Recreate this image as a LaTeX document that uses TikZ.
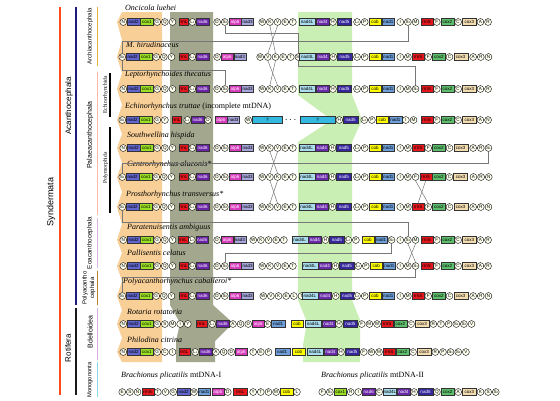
\documentclass[tikz,border=0pt]{standalone}
\usepackage{fontspec}
\setmainfont{Liberation Serif}
\setsansfont{Liberation Sans}
\usetikzlibrary{calc}

\definecolor{corange}{HTML}{F9CF98}
\definecolor{cgrayb}{HTML}{A3A78D}
\definecolor{cgreenb}{HTML}{C9EFB4}
\definecolor{ccirc}{HTML}{FFFFF0}
\definecolor{cq}{HTML}{33B9DF}
\definecolor{clink}{HTML}{777777}
\definecolor{csyn}{HTML}{FF4A1A}
\definecolor{cacan}{HTML}{1C1C80}
\definecolor{crot}{HTML}{1A1A1A}
\definecolor{carchi}{HTML}{E5B13A}
\definecolor{cpalae}{HTML}{F7BBA8}
\definecolor{ceoa}{HTML}{DDB5E5}
\definecolor{cpoly}{HTML}{B8802F}
\definecolor{cbdel}{HTML}{D9AEE3}
\definecolor{cmono}{HTML}{86D9EA}

\newcommand\defgene[4]{%
  \definecolor{cg#1}{HTML}{#2}%
  \expandafter\def\csname gw-#1\endcsname{#3}%
  \expandafter\def\csname gt-#1\endcsname{#4}}
\defgene{nad2}{6366CC}{12.5}{black}
\defgene{cox1}{9CE024}{12.5}{black}
\defgene{rrnL}{E5171C}{9.5}{black}
\defgene{rrnS}{E5171C}{12}{black}
\defgene{nad6}{6B24A8}{12.5}{white}
\defgene{atp6}{D63CBC}{12}{white}
\defgene{nad3}{A6A6DC}{12}{black}
\defgene{nad4L}{A9DCEC}{16}{black}
\defgene{nad4}{6A2BAA}{13}{white}
\defgene{nad5}{35279C}{14.5}{white}
\defgene{cob}{FFFF00}{12.5}{black}
\defgene{nad1}{6F9FDA}{12.5}{black}
\defgene{cox2}{5DBE6C}{13}{black}
\defgene{cox3}{F2DCB0}{14}{black}

\newcommand\tsub[1]{\kern-0.1pt\raisebox{-0.5pt}{\fontsize{2.8}{2.8}\selectfont#1}}

\newdimen\curx
\newdimen\tmpx
\newcount\elcnt
\def\nextw{}
\newcommand\genrow[3]{%
  \global\elcnt=0
  \foreach \ty/\vl in {#3}{%
    \if a\ty
      \global\curx=\vl pt\relax
    \else\if w\ty
      \xdef\nextw{\vl}%
    \else
      \global\advance\elcnt by 1\relax
      \if c\ty
        \node[tcirc,anchor=west] (#1-\the\elcnt) at (\the\curx,-#2pt) {\vl};%
      \else\if b\ty
        \ifx\nextw\empty\edef\bw{\csname gw-\vl\endcsname}\else\let\bw\nextw\fi
        \node[gbox,fill=cg\vl,text=\csname gt-\vl\endcsname,minimum width=\bw pt,anchor=west] (#1-\the\elcnt) at (\the\curx,-#2pt) {\vl};%
        \gdef\nextw{}%
      \else\if q\ty
        \node[gbox,fill=cq,minimum width=\vl pt,anchor=west] (#1-\the\elcnt) at (\the\curx,-#2pt) {?};%
      \else
        \node[inner sep=0pt,minimum width=\vl pt,minimum height=6pt,anchor=west] (#1-\the\elcnt) at (\the\curx,-#2pt) {$\cdots$};%
      \fi\fi\fi
      \pgfextractx{\tmpx}{\pgfpointanchor{#1-\the\elcnt}{east}}%
      \global\curx=\tmpx
      \global\advance\curx by 0.35pt\relax
    \fi\fi
  }%
}
\newcommand\lnk[3]{\draw[link] (#1.south) -- (#1.south |- 0,#2) -- (#3.north |- 0,#2) -- (#3.north);}
\newcommand\xln[2]{\draw[link] (#1.south) -- (#2.north);}

\tikzset{
  tcirc/.style={circle,draw=black,line width=0.4pt,fill=ccirc,inner sep=0pt,minimum size=6.9pt,font=\sffamily\fontsize{4.6}{4.6}\selectfont},
  gbox/.style={rectangle,draw=black!80,line width=0.3pt,inner sep=0pt,minimum height=7.2pt,font=\sffamily\fontsize{4.5}{4.5}\selectfont},
  link/.style={draw=clink,line width=0.5pt},
  sp/.style={anchor=west,inner sep=0pt,font=\fontsize{8}{9}\selectfont\itshape},
  tl/.style={rotate=90,inner sep=0pt,font=\sffamily\fontsize{#1}{#1}\selectfont},
  tl/.default=6.5,
  tl4/.style={rotate=90,inner sep=0pt,font=\rmfamily\fontsize{5.5}{5.5}\selectfont},
}

\begin{document}
\begin{tikzpicture}[x=1pt,y=-1pt]
\useasboundingbox[fill=white] (0,0) rectangle (560,400);

% background bands
\fill[corange] (122,12) -- (117,22) -- (122,40) -- (117,57) -- (122,73) -- (117,89) -- (122,105) -- (117,120) -- (122,134) -- (117,148) -- (122,163) -- (117,177) -- (122,192) -- (117,207) -- (122,224) -- (117,240) -- (122,253) -- (117,266) -- (122,281) -- (117,296) -- (122,310) -- (117,324) -- (122,338) -- (117,352) -- (122,362) -- (162,362) -- (162,12) -- cycle;
\fill[cgrayb] (170,12) -- (213,12) -- (213,305) -- (233,323) -- (215,341) -- (215,362) -- (176,362) -- (176,341) -- (180,323) -- (170,305) -- cycle;
\fill[cgreenb] (298,12) -- (352,12) -- (352,95) -- (362,120) -- (352,142) -- (352,300) -- (360,320) -- (360,362) -- (303,362) -- (303,345) -- (307,322) -- (298,300) -- (298,142) -- (332,120) -- (298,95) -- cycle;

% tree
\draw[line width=1.8pt,csyn] (60,7) -- (60,395);
\node[tl=9] (tsyn) at (51,202) {Syndermata};
\draw[line width=1.8pt,cacan] (76,7) -- (76,305);
\node[tl=8] (tacan) at (69,106) {Acanthocephala};
\draw[line width=1.8pt,crot] (76,308) -- (76,395);
\node[tl=8] (trot) at (68,348) {Rotifera};
\draw[line width=1.8pt,carchi] (97.5,7) -- (97.5,66);
\node[tl=6] (tarchi) at (90,36) {Archiacanthocephala};
\draw[line width=1.8pt,cpalae] (97.5,72) -- (97.5,215);
\node[tl=7] (tpalae) at (90,135) {Palaeacanthocephala};
\draw[line width=1.8pt,ceoa] (97.5,218) -- (97.5,268);
\node[tl=6.3] (teoa) at (90,243) {Eoacanthocephala};
\draw[line width=1.8pt,cpoly] (97.5,271) -- (97.5,305);
\node[tl=6] (tpolya) at (85,288) {Polyacantho};
\node[tl=6] (tpolyb) at (92.5,288) {cephala};
\draw[line width=1.8pt,cbdel] (97.5,308) -- (97.5,360);
\node[tl=7] (tbdel) at (90,332) {Bdelloidea};
\draw[line width=1.8pt,cmono] (97.5,362) -- (97.5,397);
\node[tl=5.8] (tmono) at (90,380) {Monogononta};
\draw[line width=1.4pt,black] (110,73) -- (110,117);
\node[tl4] (techi) at (105.5,95) {Echinorhynchida};
\draw[line width=1.4pt,black] (110,127) -- (110,213);
\node[tl4] (tpolym) at (105.5,168) {Polymorphida};

% species labels
\node[sp] (l1) at (125,8) {Oncicola luehei};
\node[sp] (l2) at (126,45) {M. hirudinaceus};
\node[sp] (l3) at (125,75) {Leptorhynchoides thecatus};
\node[sp] (l4) at (125,107) {Echinorhynchus truttae \upshape(incomplete mtDNA)};
\node[sp] (l5) at (127,136) {Southwellina hispida};
\node[sp] (l6) at (127,165) {Centrorhynchus aluconis*};
\node[sp] (l7) at (126,195) {Prosthorhynchus transversus*};
\node[sp] (l8) at (127,228) {Paratenuisentis ambiguus};
\node[sp] (l9) at (127,253) {Pallisentis celatus};
\node[sp] (l10) at (123,282) {Polyacanthorhynchus caballeroi*};
\node[sp] (l11) at (127,312) {Rotaria rotatoria};
\node[sp] (l12) at (127,340) {Philodina citrina};
\node[sp] (l13) at (121,376) {Brachionus plicatilis \upshape mtDNA-I};
\node[sp] (l14) at (321,376) {Brachionus plicatilis \upshape mtDNA-II};

% gene rows
\genrow{r1}{22}{a/119.6, c/N, b/nad2, b/cox1, c/G, c/Q, c/Y, a/178.5, b/rrnL, c/L\tsub1, b/nad6, a/213.5, c/D, c/S\tsub2, b/atp6, b/nad3, a/258.6, c/W, c/K, c/V, c/E, c/T, a/299, b/nad4L, b/nad4, c/H, b/nad5, a/353.4, c/L\tsub2, c/P, b/cob, b/nad1, a/396.6, c/I, c/S\tsub1, c/M, a/420.5, b/rrnS, c/F, b/cox2, c/C, b/cox3, c/A, c/R}
\genrow{r2}{57}{a/118.6, c/S\tsub2, b/nad2, b/cox1, c/G, c/Q, c/Y, a/178.5, b/rrnL, c/L\tsub1, b/nad6, a/213.5, c/D, b/atp6, b/nad3, a/256.5, c/W, c/V, c/K, c/E, c/T, c/S\tsub1, a/299.3, b/nad4L, b/nad4, c/H, b/nad5, a/353.4, c/L\tsub2, c/P, b/cob, b/nad1, a/396.6, c/I, c/M, b/rrnS, c/F, b/cox2, c/C, b/cox3, a/469.5, c/A, c/R, c/N}
\genrow{r3}{89}{a/119.6, c/N, b/nad2, b/cox1, c/G, c/Q, c/Y, a/178.5, b/rrnL, c/L\tsub1, b/nad6, a/213.5, c/D, c/S\tsub2, b/atp6, b/nad3, a/258.6, c/W, c/K, c/V, c/E, c/T, a/299, b/nad4L, b/nad4, c/H, b/nad5, a/353.4, c/L\tsub2, c/P, b/cob, b/nad1, a/396.6, c/I, c/M, c/S\tsub1, a/420.5, b/rrnS, c/F, b/cox2, c/C, b/cox3, c/A, c/R}
\genrow{r4}{120}{a/118.6, c/S\tsub1, b/nad2, b/cox1, a/153.6, c/G, c/Y, a/171.5, b/rrnL, a/183.6, c/L\tsub1, b/nad6, c/D, a/214.5, b/atp6, b/nad3, a/244.6, c/W, q/30, d/15, a/300, q/35, c/H, b/nad5, a/360.6, c/L\tsub2, c/P, b/cob, b/nad1, c/I, c/M, a/420.5, b/rrnS, c/F, b/cox2, c/C, b/cox3, c/A, c/N}
\genrow{r5}{148}{a/119.6, c/N, b/nad2, b/cox1, c/G, c/Q, c/Y, a/178.5, b/rrnL, c/L\tsub1, b/nad6, a/213.5, c/D, c/S\tsub2, b/atp6, b/nad3, a/258.6, c/W, c/K, c/V, c/E, c/T, a/298.5, b/nad4L, b/nad4, c/H, b/nad5, a/353.4, c/L\tsub2, c/P, b/cob, b/nad1, a/396.6, c/I, c/M, b/rrnS, c/F, b/cox2, c/C, b/cox3, a/469.5, c/A, c/R, c/S\tsub1}
\genrow{r6}{177}{a/118.6, c/S\tsub1, b/nad2, b/cox1, c/G, c/Q, c/Y, a/178.5, b/rrnL, c/L\tsub1, b/nad6, a/213.5, c/D, c/S\tsub2, b/atp6, b/nad3, a/258.6, c/W, c/V, c/K, c/E, c/T, a/298.5, b/nad4L, b/nad4, c/H, b/nad5, a/353.4, c/L\tsub2, c/P, b/cob, b/nad1, a/396.6, c/I, c/M, c/F, a/419.5, b/rrnS, b/cox2, c/C, b/cox3, a/469.8, c/A, c/R, c/N}
\genrow{r7}{207}{a/118.6, c/S\tsub1, b/nad2, b/cox1, c/G, c/Q, c/Y, a/178.5, b/rrnL, c/L\tsub1, b/nad6, a/213.5, c/D, c/S\tsub2, b/atp6, b/nad3, a/258.6, c/W, c/K, c/V, c/E, c/T, a/298.5, b/nad4L, b/nad4, c/H, b/nad5, a/353.4, c/L\tsub2, c/P, b/cob, b/nad1, a/396.6, c/I, c/M, b/rrnS, c/F, b/cox2, c/C, b/cox3, a/469.5, c/A, c/R, c/N}
\genrow{r8}{240}{a/119.6, c/N, b/nad2, b/cox1, c/G, c/Q, c/Y, a/178, b/rrnL, c/L\tsub1, b/nad6, a/213.5, c/D, b/atp6, b/nad3, a/249.6, c/W, c/K, c/V, c/E, c/T, a/291.5, b/nad4L, b/nad4, c/H, b/nad5, c/L\tsub2, c/P, a/361.5, b/cob, b/nad1, c/S\tsub2, a/396.6, c/I, c/S\tsub1, c/M, a/420.5, b/rrnS, c/F, b/cox2, c/C, b/cox3, c/A, c/R}
\genrow{r9}{266}{a/119.6, c/N, b/nad2, b/cox1, c/G, c/Q, c/Y, a/178.5, b/rrnL, c/L\tsub1, b/nad6, a/213.5, c/D, c/S\tsub2, b/atp6, b/nad3, a/258.6, c/W, c/K, c/V, c/E, c/T, a/301.5, b/nad4L, b/nad4, c/H, b/nad5, a/354.5, c/L\tsub2, c/P, b/cob, b/nad1, a/396.6, c/I, c/M, c/S\tsub1, a/420.5, b/rrnS, c/F, b/cox2, c/C, b/cox3, c/A, c/R}
\genrow{r10}{296}{a/118.6, c/S\tsub1, b/nad2, b/cox1, c/G, c/Q, c/Y, a/178.5, b/rrnL, c/L\tsub1, b/nad6, a/213.5, c/D, c/S\tsub2, b/atp6, b/nad3, a/259.6, c/W, c/V, c/K, c/E, c/L, c/T, a/301.8, b/nad4L, b/nad4, c/H, b/nad5, a/353.4, c/L\tsub2, c/P, b/cob, b/nad1, a/396.6, c/I, c/M, b/rrnS, c/F, b/cox2, c/C, b/cox3, a/469.5, c/A, c/R, c/N}
\genrow{r11}{324}{a/119.6, c/N, b/nad2, b/cox1, c/G, c/S, c/M, c/I, c/Y, a/196, w/10.5, b/rrnL, a/208.5, c/L\tsub1, b/nad6, c/A, c/Q, c/D, a/252, b/atp6, a/264, c/E, a/271, w/14, b/nad1, a/290.5, b/cob, a/305, b/nad4L, b/nad4, c/H, b/nad5, c/F, c/M, c/W, b/rrnS, b/cox2, c/C, b/cox3, c/R, c/T, c/P, c/S\tsub1, c/S\tsub2, c/V}
\genrow{r12}{352}{a/119.6, c/N, b/nad2, b/cox1, c/G, c/C, c/I, a/178.5, w/11, b/rrnL, a/191.5, c/L\tsub1, b/nad6, c/A, c/Q, c/D, a/235, b/atp6, a/249.5, c/T, c/E, c/P, a/274.5, w/15, b/nad1, a/292, b/cob, a/307, b/nad4L, b/nad4, c/H, b/nad5, c/F, c/W, c/M, b/rrnS, b/cox2, c/C, b/cox3, c/R, c/P, c/S\tsub1, c/S\tsub2, c/V}
\genrow{r13}{392}{a/118.6, c/E, c/S, c/N, b/rrnS, c/T, c/V, c/G, b/nad2, c/W, b/nad1, a/211.5, b/atp6, c/D, a/233, w/14, b/rrnL, a/249.5, c/Y, c/T, c/P, c/M, b/cob, c/L}
\genrow{r14}{392}{a/318.6, c/F, c/S\tsub1, b/cox1, c/R, c/I, b/nad6, c/C, w/13, b/nad4L, b/nad4, c/H, b/nad5, c/Q, b/cox2, c/A, b/cox3, c/K, c/S, c/S\tsub2}

% rearrangement connectors
\lnk{r1-11}{33}{r2-18}
\lnk{r1-28}{41}{r2-1}
\xln{r1-15}{r2-15}
\xln{r1-16}{r2-14}
\lnk{r2-1}{70}{r3-11}
\lnk{r2-18}{66}{r3-29}
\xln{r2-14}{r3-16}
\xln{r2-15}{r3-15}
\lnk{r5-36}{163}{r6-1}
\xln{r5-15}{r6-16}
\xln{r5-16}{r6-15}
\xln{r6-15}{r7-16}
\xln{r6-16}{r7-15}
\xln{r6-29}{r7-30}
\xln{r6-30}{r7-29}
\lnk{r7-1}{222}{r8-28}
\lnk{r8-26}{253}{r9-11}
\xln{r8-28}{r9-29}
\xln{r8-29}{r9-28}
\lnk{r9-29}{277}{r10-1}
\end{tikzpicture}
\end{document}
